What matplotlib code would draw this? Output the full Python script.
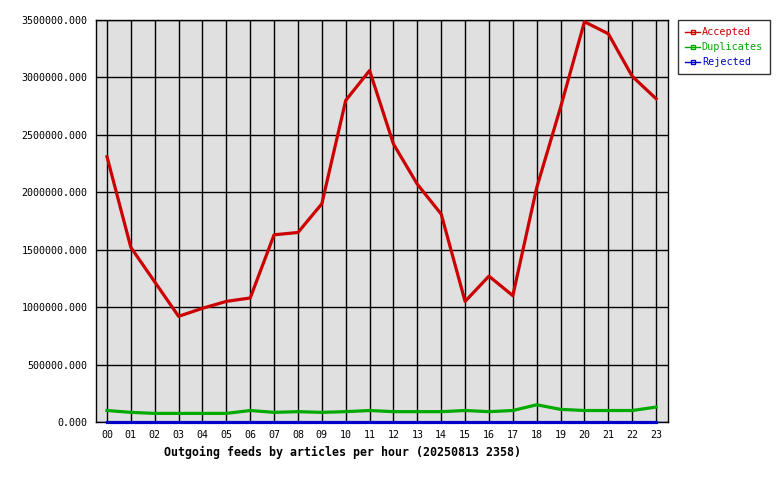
import numpy as np
import matplotlib
matplotlib.use("Agg")
import matplotlib.pyplot as plt

hours = ["00", "01", "02", "03", "04", "05", "06", "07", "08", "09", "10", "11",
         "12", "13", "14", "15", "16", "17", "18", "19", "20", "21", "22", "23"]
accepted = [2310000, 1520000, 1220000, 920000, 990000, 1050000, 1080000, 1630000,
            1650000, 1900000, 2800000, 3060000, 2420000, 2070000, 1810000, 1050000,
            1270000, 1100000, 2040000, 2740000, 3485000, 3380000, 3010000, 2815000]
duplicates = [100000, 84000, 75000, 75000, 75000, 75000, 100000, 84000,
              90000, 84000, 90000, 100000, 90000, 90000, 90000, 100000,
              90000, 100000, 150000, 110000, 100000, 100000, 100000, 130000]
rejected = [2000] * 24

plt.rcParams['font.family'] = ['DejaVu Sans Mono']

fig = plt.figure(figsize=(7.8, 4.8), dpi=100)
ax = fig.add_axes([96 / 780, 58 / 480, 572 / 780, 402 / 480])
ax.set_facecolor('#e0e0e0')

x = np.arange(len(hours))
ax.plot(x, accepted, color='#cc0000', lw=2.3, label='Accepted', zorder=3)
ax.plot(x, duplicates, color='#00aa00', lw=2.3, label='Duplicates', zorder=3)
ax.plot(x, rejected, color='#0000cc', lw=2.3, label='Rejected', clip_on=False, zorder=4)

ax.set_xlim(-0.46, 23.5)
ax.set_ylim(0, 3500000)
ax.set_xticks(x)
ax.set_xticklabels(hours)
yt = np.arange(0, 3500001, 500000)
ax.set_yticks(yt)
ax.set_yticklabels(['%.3f' % v for v in yt])
ax.tick_params(length=0, labelsize=7.2, pad=6)
ax.grid(True, color='black', lw=1)
ax.set_axisbelow(True)
for s in ax.spines.values():
    s.set_color('black')
    s.set_linewidth(1)

fig.text(343 / 780, 1 - 452 / 480, 'Outgoing feeds by articles per hour (20250813 2358)',
         ha='center', va='center', fontsize=8.4, fontweight='bold')

handles = []
for lab, col in [('Accepted', '#cc0000'), ('Duplicates', '#00aa00'), ('Rejected', '#0000cc')]:
    h, = ax.plot([], [], color=col, lw=1, marker='s', ms=3, mfc='none', mec=col)
    handles.append(h)
leg = fig.legend(handles, ['Accepted', 'Duplicates', 'Rejected'],
                 loc='upper left', bbox_to_anchor=(678 / 780, 1 - 20 / 480),
                 fontsize=7.3, frameon=True, fancybox=False, edgecolor='black',
                 handlelength=1.5, handletextpad=0.15, borderpad=0.7, labelspacing=0.5,
                 borderaxespad=0)
leg.get_frame().set_linewidth(1)
for t, h in zip(leg.get_texts(), handles):
    t.set_color(h.get_color())

fig.savefig('out.png', dpi=100)
